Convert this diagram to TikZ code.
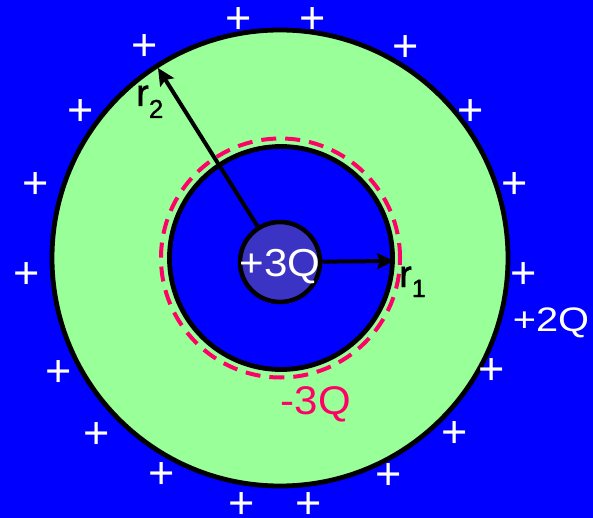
\documentclass[tikz,border=0pt]{standalone}
\usepackage{fontspec}
\setmainfont{Liberation Sans}
\newfontfamily\rfont[FakeBold=1.2]{Liberation Sans}
\usetikzlibrary{arrows.meta}
\definecolor{bgblue}{HTML}{0000FF}
\definecolor{shellgreen}{HTML}{99FF99}
\definecolor{corecol}{HTML}{3A33C4}
\definecolor{pinkq}{HTML}{FF0066}
\tikzset{
  shellring/.style={draw=black, line width=4.8pt},
  plussign/.style={text=white, inner sep=0pt, font=\fontsize{45}{45}\selectfont},
  lbl/.style={inner sep=0pt, anchor=base},
  rlbl/.style={inner sep=0pt, anchor=base west, font=\rfont\fontsize{38}{38}\selectfont},
  radarrow/.style={draw=black, line width=4pt, -{Stealth[length=17pt,width=16pt,inset=3pt]}},
  core/.style={circle, fill=corecol, draw=black, line width=4.5pt, minimum size=80pt, inner sep=0pt},
}
\begin{document}
\begin{tikzpicture}[x=1pt,y=-1pt]
\fill[bgblue] (0,0) rectangle (593,518);
\useasboundingbox (0,0) rectangle (593,518);
% shells
\draw[shellring, fill=shellgreen] (280,258) circle[radius=228pt];
\draw[shellring, fill=bgblue] (281,258) circle[radius=111.5pt];
\draw[pinkq, line width=4pt, dash pattern=on 15pt off 9pt] (280.5,258) circle[radius=119.5pt];
% core charge
\node[core] (q) at (280,262) {};
\coordinate (t1) at (394,261);
\coordinate (t2) at (158,68);
\draw[radarrow] (q) -- (t1);
\draw[radarrow] (q) -- (t2);
% labels
\node[lbl, text=white, font=\fontsize{39}{39}\selectfont] (p3q) at (280,276) {\scalebox{1.08}[1]{+3Q}};
\node[lbl, text=white, font=\fontsize{34}{34}\selectfont] (p2q) at (551,331) {\scalebox{1.17}[1]{+2Q}};
\node[lbl, text=pinkq, font=\fontsize{40}{40}\selectfont] (m3q) at (316,414) {\scalebox{1.05}[1]{-3Q}};
\node[rlbl] (r2) at (136,106) {r\raisebox{-12pt}{\fontsize{26}{26}\selectfont 2}};
\node[rlbl] (r1) at (399,287) {r\raisebox{-10pt}{\fontsize{25}{25}\selectfont 1}};
% surface charges
\foreach \px/\py [count=\i] in {239/21,313/21,145/48,406/49,81/113,471/113,36/186,515/186,27/276,524/276,59/374,492/372,97/436,455/435,162/476,389/477,242/506,309/506}
  \node[plussign] (s\i) at (\px,\py) {+};
\end{tikzpicture}
\end{document}
